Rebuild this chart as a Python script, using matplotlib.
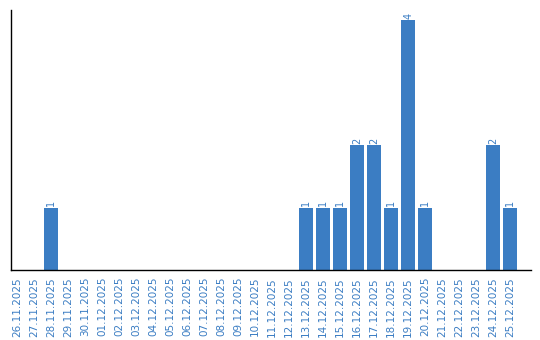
import matplotlib
matplotlib.use("Agg")
import matplotlib.pyplot as plt

dates = ['26.11.2025', '27.11.2025', '28.11.2025', '29.11.2025', '30.11.2025',
         '01.12.2025', '02.12.2025', '03.12.2025', '04.12.2025', '05.12.2025',
         '06.12.2025', '07.12.2025', '08.12.2025', '09.12.2025', '10.12.2025',
         '11.12.2025', '12.12.2025', '13.12.2025', '14.12.2025', '15.12.2025',
         '16.12.2025', '17.12.2025', '18.12.2025', '19.12.2025', '20.12.2025',
         '21.12.2025', '22.12.2025', '23.12.2025', '24.12.2025', '25.12.2025']
counts = [0, 0, 1, 0, 0,
          0, 0, 0, 0, 0,
          0, 0, 0, 0, 0,
          0, 0, 1, 1, 1,
          2, 2, 1, 4, 1,
          0, 0, 0, 2, 1]

blue = '#3b7dc3'

fig = plt.figure(figsize=(5.4, 3.4), dpi=100)
ax = fig.add_axes([11 / 540, 70 / 340, 519.7 / 540, 260 / 340])

x = list(range(len(dates)))
ax.bar(x, counts, width=0.82, color=blue)

for xi, c in zip(x, counts):
    if c > 0:
        ax.text(xi, c + 0.02, str(c), rotation=90, ha='center', va='bottom',
                fontsize=7, color=blue)

ax.set_xlim(-0.353, 30.2)
ax.set_ylim(0, 4.16)
ax.set_xticks(x)
ax.set_xticklabels(dates, rotation=90, fontsize=7.5, color=blue)
ax.set_yticks([])
ax.tick_params(axis='x', length=0, pad=5)
for s in ['top', 'right']:
    ax.spines[s].set_visible(False)
for s in ['left', 'bottom']:
    ax.spines[s].set_linewidth(1.0)
    ax.spines[s].set_color('black')

plt.savefig('out.png', dpi=100)
